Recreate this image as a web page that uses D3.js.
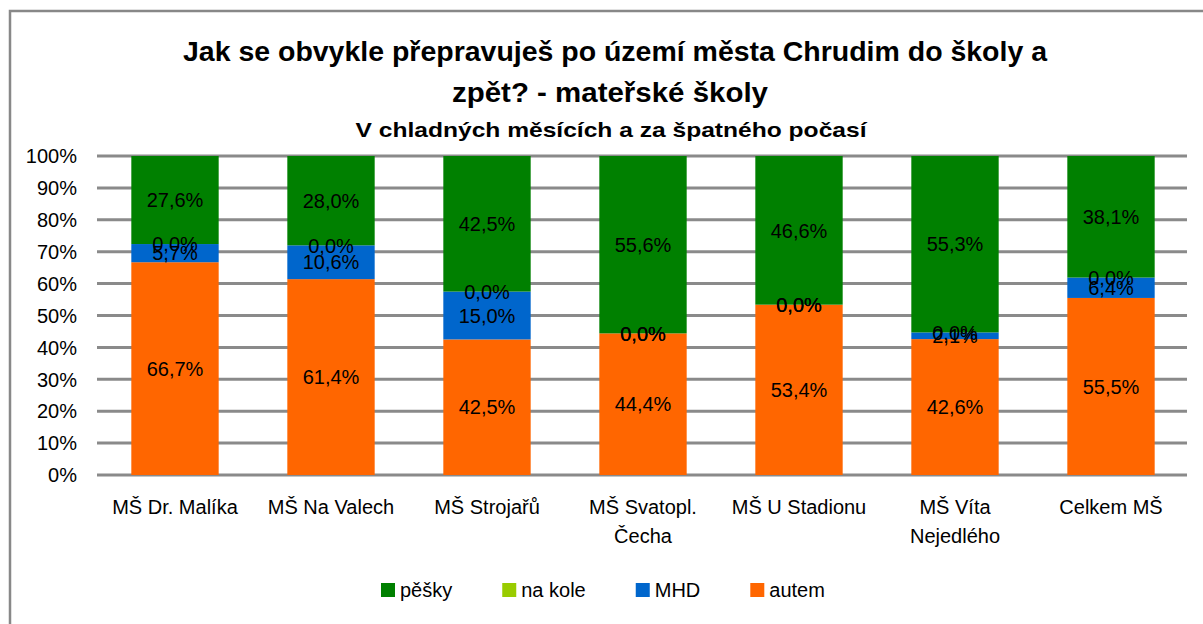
<!DOCTYPE html>
<html>
<head>
<meta charset="utf-8">
<script src="https://cdn.jsdelivr.net/npm/d3@7"></script>
<style>
  body { margin: 0; background: #fff; }
  svg { display: block; font-family: 'Liberation Sans', Arial, sans-serif; }
</style>
</head>
<body>
<div id="chart"></div>
<script>
const categories = ['MŠ Dr. Malíka', 'MŠ Na Valech', 'MŠ Strojařů', 'MŠ Svatopl.\nČecha', 'MŠ U Stadionu', 'MŠ Víta\nNejedlého', 'Celkem MŠ']
const seriesNames = ['autem', 'MHD', 'na kole', 'pěšky'] // pořadí odspodu
const autem = [66.7, 61.4, 42.5, 44.4, 53.4, 42.6, 55.5]
const mhd = [5.7, 10.6, 15.0, 0.0, 0.0, 2.1, 6.4]
const naKole = [0.0, 0.0, 0.0, 0.0, 0.0, 0.0, 0.0]
const pesky = [27.6, 28.0, 42.5, 55.6, 46.6, 55.3, 38.1]
const yTicks = [0, 10, 20, 30, 40, 50, 60, 70, 80, 90, 100]
const legendOrder = ['pěšky', 'na kole', 'MHD', 'autem']

const colors = { 'pěšky': '#008000', 'na kole': '#99cc00', 'MHD': '#0066cc', 'autem': '#ff6600' }
const values = { 'autem': autem, 'MHD': mhd, 'na kole': naKole, 'pěšky': pesky }

const width = 1203, height = 624
const margin = { top: 156, left: 97, right: 16, bottom: 149 }

const svg = d3.select('#chart').append('svg')
  .attr('width', width).attr('height', height)

// rámeček grafu
svg.append('rect')
  .attr('x', 10).attr('y', 11)
  .attr('width', 1260).attr('height', 700)
  .attr('fill', 'none').attr('stroke', '#888').attr('stroke-width', 2.5)

// nadpis
const titles = [
  { text: 'Jak se obvykle přepravuješ po území města Chrudim do školy a', y: 61, size: 27, len: 864, x: 615 },
  { text: 'zpět? - mateřské školy', y: 102, size: 27, len: 316, x: 610 },
  { text: 'V chladných měsících a za špatného počasí', y: 137, size: 21, len: 511, x: 611 }
]
svg.selectAll('text.title').data(titles).join('text')
  .attr('class', 'title')
  .attr('x', d => d.x).attr('y', d => d.y)
  .attr('text-anchor', 'middle')
  .attr('font-weight', 'bold')
  .attr('font-size', d => d.size)
  .attr('textLength', d => d.len)
  .attr('lengthAdjust', 'spacingAndGlyphs')
  .attr('fill', '#000')
  .text(d => d.text)

const x = d3.scaleBand()
  .domain(categories)
  .range([margin.left, width - margin.right + 2])
  .paddingInner(0.44).paddingOuter(0.22)

const y = d3.scaleLinear()
  .domain([0, 100])
  .range([height - margin.bottom, margin.top])

// mřížka
svg.append('g').selectAll('line').data(yTicks).join('line')
  .attr('x1', margin.left).attr('x2', width - margin.right)
  .attr('y1', d => y(d)).attr('y2', d => y(d))
  .attr('stroke', '#8a8a8a').attr('stroke-width', 3)

// osa y
svg.append('g').selectAll('text').data(yTicks).join('text')
  .attr('x', 77).attr('y', d => y(d))
  .attr('dy', '0.36em')
  .attr('text-anchor', 'end')
  .attr('font-size', 20)
  .text(d => d + '%')

// skládaná data
const table = categories.map((c, i) => {
  const row = { cat: c }
  seriesNames.forEach(s => { row[s] = values[s][i] })
  return row
})
const stacked = d3.stack().keys(seriesNames)(table)

const layers = svg.append('g').selectAll('g').data(stacked).join('g')
  .attr('fill', d => colors[d.key])

layers.selectAll('rect').data(d => d).join('rect')
  .attr('x', d => x(d.data.cat))
  .attr('width', x.bandwidth())
  .attr('y', d => y(d[1]))
  .attr('height', d => y(d[0]) - y(d[1]))

// popisky hodnot (nulové hodnoty se v originále překrývají)
const fmt = v => v.toFixed(1).replace('.', ',') + '%'
svg.append('g').selectAll('g').data(stacked).join('g')
  .selectAll('text').data(d => d.map(p => ({ p, key: d.key }))).join('text')
  .attr('x', d => x(d.p.data.cat) + x.bandwidth() / 2)
  .attr('y', d => y((d.p[0] + d.p[1]) / 2))
  .attr('dy', '0.36em')
  .attr('text-anchor', 'middle')
  .attr('font-size', 20)
  .attr('fill', '#000')
  .text(d => fmt(d.p.data[d.key]))

// osa x
const xLabels = svg.append('g').selectAll('text').data(categories).join('text')
  .attr('x', d => x(d) + x.bandwidth() / 2)
  .attr('y', 514)
  .attr('text-anchor', 'middle')
  .attr('font-size', 20)
xLabels.selectAll('tspan').data(d => d.split('\n')).join('tspan')
  .attr('x', function() { return d3.select(this.parentNode).attr('x') })
  .attr('dy', (d, i) => i === 0 ? 0 : 29)
  .text(d => d)

// legenda
const legend = svg.append('g')
let lx = 381
legendOrder.forEach(name => {
  legend.append('rect')
    .attr('x', lx).attr('y', 583)
    .attr('width', 14).attr('height', 14)
    .attr('fill', colors[name])
  const t = legend.append('text')
    .attr('x', lx + 19).attr('y', 597)
    .attr('font-size', 20)
    .text(name)
  lx += 19 + t.node().getComputedTextLength() + 50
})
</script>
</body>
</html>
